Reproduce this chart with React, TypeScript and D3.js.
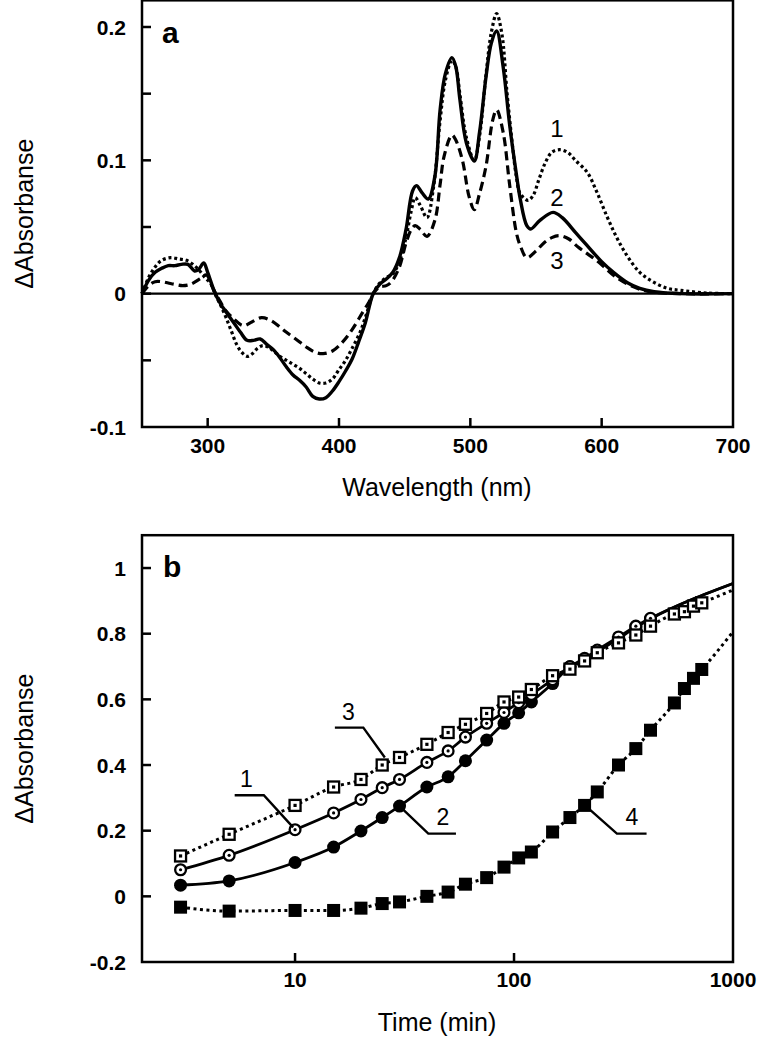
import React from 'react';
import * as d3 from 'd3';

// ---- panel a: difference spectra ----
const wl1 = [250, 255, 260, 265, 272, 278, 284, 290, 294, 298, 302, 306, 310, 314, 318, 322, 326, 330, 334, 338, 342, 346, 350, 355, 360, 365, 370, 375, 380, 385, 390, 395, 400, 405, 410, 416, 421, 426, 431, 436, 441, 446, 451, 455, 458, 462, 467, 472, 477, 481, 486, 489, 492, 497, 503, 507, 512, 516, 520, 524, 528, 532, 535, 538, 544, 548, 552, 557, 562, 568, 574, 580, 589, 596, 604, 611, 619, 629, 639, 650, 660, 680, 700];
const spec1 = [0.000, 0.012, 0.020, 0.025, 0.027, 0.026, 0.025, 0.021, 0.017, 0.012, 0.008, -0.001, -0.009, -0.018, -0.028, -0.038, -0.044, -0.047, -0.045, -0.041, -0.039, -0.040, -0.043, -0.047, -0.050, -0.053, -0.056, -0.060, -0.064, -0.067, -0.067, -0.064, -0.057, -0.050, -0.041, -0.029, -0.015, 0.000, 0.008, 0.012, 0.015, 0.024, 0.042, 0.062, 0.072, 0.066, 0.057, 0.080, 0.130, 0.160, 0.175, 0.170, 0.150, 0.117, 0.100, 0.118, 0.165, 0.196, 0.210, 0.195, 0.150, 0.112, 0.088, 0.075, 0.070, 0.074, 0.085, 0.098, 0.106, 0.108, 0.106, 0.100, 0.091, 0.077, 0.058, 0.043, 0.029, 0.016, 0.009, 0.004, 0.0025, 0.0005, 0.000];

const wl2 = [250, 255, 260, 265, 270, 275, 280, 285, 290, 293, 297, 300, 305, 310, 315, 320, 325, 330, 335, 340, 345, 350, 355, 360, 365, 370, 375, 380, 385, 390, 395, 400, 405, 410, 415, 420, 426, 431, 436, 441, 446, 451, 456, 459, 463, 468, 473, 477, 481, 486, 489, 492, 497, 503, 507, 512, 516, 520, 525, 530, 535, 538, 543, 546, 553, 563, 570, 580, 589, 600, 609, 620, 629, 640, 660, 700];
const spec2 = [0.000, 0.010, 0.016, 0.019, 0.021, 0.021, 0.022, 0.022, 0.017, 0.018, 0.023, 0.016, 0.002, -0.008, -0.015, -0.022, -0.029, -0.035, -0.035, -0.034, -0.038, -0.042, -0.048, -0.055, -0.061, -0.065, -0.070, -0.077, -0.079, -0.078, -0.073, -0.066, -0.058, -0.049, -0.036, -0.022, 0.000, 0.007, 0.011, 0.016, 0.027, 0.048, 0.077, 0.081, 0.076, 0.071, 0.088, 0.138, 0.165, 0.177, 0.170, 0.146, 0.113, 0.0995, 0.121, 0.163, 0.188, 0.197, 0.170, 0.126, 0.090, 0.071, 0.051, 0.0485, 0.055, 0.061, 0.057, 0.046, 0.036, 0.024, 0.016, 0.008, 0.004, 0.0015, 0.000, 0.000];

const wl3 = [250, 255, 260, 265, 270, 275, 281, 287, 294, 299, 304, 309, 314, 320, 327, 334, 341, 348, 355, 360, 367, 375, 382, 388, 395, 403, 410, 418, 423, 426, 431, 436, 440, 446, 451, 455, 458, 462, 467, 473, 477, 480, 486, 489, 494, 499, 503, 507, 512, 517, 520, 525, 530, 535, 538, 543, 550, 556, 562, 568, 575, 582, 589, 596, 603, 610, 620, 630, 640, 660, 700];
const spec3 = [0.000, 0.006, 0.009, 0.009, 0.008, 0.007, 0.006, 0.007, 0.011, 0.014, 0.004, -0.005, -0.013, -0.019, -0.024, -0.021, -0.018, -0.020, -0.025, -0.029, -0.034, -0.040, -0.044, -0.045, -0.043, -0.036, -0.027, -0.014, -0.006, 0.000, 0.005, 0.006, 0.009, 0.020, 0.038, 0.048, 0.051, 0.048, 0.043, 0.055, 0.082, 0.103, 0.119, 0.115, 0.100, 0.073, 0.063, 0.075, 0.096, 0.130, 0.138, 0.121, 0.081, 0.046, 0.036, 0.027, 0.032, 0.038, 0.042, 0.0435, 0.041, 0.035, 0.030, 0.025, 0.019, 0.013, 0.007, 0.003, 0.001, 0.000, 0.000];

const wlTicks = [300, 400, 500, 600];
const wlLabels = ['300', '400', '500', '600', '700'];
const absTicksA = [-0.05, 0, 0.05, 0.1, 0.15, 0.2];
const absLabelsA = ['-0.1', '0', '0.1', '0.2'];

// ---- panel b: kinetics ----
const t1 = [3, 5, 10, 15, 20, 25, 30, 40, 50, 60, 75, 90, 105, 120, 150, 180, 210, 240, 300, 360, 420];
const k1 = [0.081, 0.125, 0.203, 0.254, 0.295, 0.331, 0.356, 0.408, 0.443, 0.485, 0.527, 0.560, 0.590, 0.615, 0.660, 0.700, 0.725, 0.750, 0.790, 0.823, 0.847];
const t2 = [3, 5, 10, 15, 20, 25, 30, 40, 50, 60, 75, 90, 105, 120, 150, 180, 210, 240, 300, 360, 420];
const k2 = [0.034, 0.047, 0.103, 0.150, 0.199, 0.240, 0.275, 0.333, 0.364, 0.413, 0.476, 0.527, 0.559, 0.592, 0.648, 0.699, 0.720, 0.745, 0.785, 0.820, 0.845];
const t3 = [3, 5, 10, 15, 20, 25, 30, 40, 50, 60, 75, 90, 105, 120, 150, 180, 210, 240, 300, 360, 420, 540, 600, 660, 720];
const k3 = [0.123, 0.189, 0.277, 0.333, 0.356, 0.400, 0.423, 0.463, 0.499, 0.524, 0.557, 0.592, 0.607, 0.630, 0.672, 0.692, 0.717, 0.742, 0.772, 0.796, 0.823, 0.860, 0.867, 0.884, 0.894];
const t4 = [3, 5, 10, 15, 20, 25, 30, 40, 50, 60, 75, 90, 105, 120, 150, 180, 210, 240, 300, 360, 420, 540, 600, 660, 720];
const k4 = [-0.033, -0.045, -0.043, -0.043, -0.036, -0.022, -0.017, 0.000, 0.013, 0.037, 0.057, 0.089, 0.117, 0.135, 0.196, 0.240, 0.277, 0.318, 0.400, 0.450, 0.506, 0.589, 0.633, 0.664, 0.691];
// fitted curves run on to the end of the axis
const fitEndTime = 1000;
const fitEnd = [0.953, 0.953, 0.933, 0.806];

const timeTicks = [10, 100];
const timeLabels = [10, 100, 1000];
const absTicksB = [0, 0.2, 0.4, 0.6, 0.8, 1];
const absLabelsB = [-0.2, 0, 0.2, 0.4, 0.6, 0.8, 1];

// curve numbers: [text, x, y] in data units; leaders as polylines
const specLabels: [string, number, number][] = [['1', 566, 0.124], ['2', 566, 0.072], ['3', 566, 0.025]];
const kinLabels: [string, number, number][] = [['3', 17.5, 0.561], ['1', 6.0, 0.359], ['2', 47.3, 0.242], ['4', 345, 0.242]];
const kinLeaders: [number, number][][] = [
  [[15.2, 0.514], [20.5, 0.514], [25.7, 0.423]],
  [[5.3, 0.308], [7.2, 0.308], [9.8, 0.21]],
  [[30, 0.275], [40.6, 0.191], [54.3, 0.191]],
  [[211, 0.277], [295, 0.191], [403, 0.191]],
];

const FONT = '"Liberation Sans", Arial, Helvetica, sans-serif';
const SW = 2.5;

export default function App() {
  const xA = d3.scaleLinear().domain([250, 700]).range([142, 733]);
  const yA = d3.scaleLinear().domain([-0.1, 0.22]).range([427, 0.33]);
  const xB = d3.scaleLog().domain([2, 1000]).range([142, 733]);
  const yB = d3.scaleLinear().domain([-0.2, 1.1]).range([962, 535.2]);

  const specLine = (wl: number[], v: number[]) =>
    d3.line<number>().x((_, i) => xA(wl[i])).y(d => yA(d)).curve(d3.curveCatmullRom.alpha(0.5))(v) || '';
  const kinLine = (t: number[], v: number[], end: number) =>
    d3.line<[number, number]>().x(d => xB(d[0])).y(d => yB(d[1])).curve(d3.curveMonotoneX)(
      [...t.map((tt, i) => [tt, v[i]] as [number, number]), [fitEndTime, end]]
    ) || '';
  const leader = d3.line<[number, number]>().x(d => xB(d[0])).y(d => yB(d[1]));

  const [ax0, ax1] = xA.range();
  const [ayB, ayT] = yA.range();
  const [bx0, bx1] = xB.range();
  const [byB, byT] = yB.range();

  return (
    <svg width={763} height={1050} style={{ position: 'absolute', left: 0, top: 0, background: '#fff' }}
      fontFamily={FONT}>
      {/* ===== panel a ===== */}
      <line x1={ax0} x2={ax1} y1={yA(0)} y2={yA(0)} stroke="#000" strokeWidth={2.2} />
      <path d={specLine(wl1, spec1)} fill="none" stroke="#000" strokeWidth={3.2} strokeDasharray="3,2.8" />
      <path d={specLine(wl3, spec3)} fill="none" stroke="#000" strokeWidth={3.2} strokeDasharray="9,5" />
      <path d={specLine(wl2, spec2)} fill="none" stroke="#000" strokeWidth={3.4} />
      <rect x={ax0} y={ayT} width={ax1 - ax0} height={ayB - ayT} fill="none" stroke="#000" strokeWidth={SW} />
      {wlTicks.map(t => (
        <line key={t} x1={xA(t)} x2={xA(t)} y1={ayB} y2={ayB - 9} stroke="#000" strokeWidth={SW} />
      ))}
      {absTicksA.map(t => (
        <line key={t} x1={ax0} x2={ax0 + 9} y1={yA(t)} y2={yA(t)} stroke="#000" strokeWidth={SW} />
      ))}
      {wlLabels.map(l => (
        <text key={l} x={xA(+l)} y={453} textAnchor="middle" fontWeight="bold" fontSize={21}>{l}</text>
      ))}
      {absLabelsA.map(l => (
        <text key={l} x={126} y={yA(+l)} dy="0.36em" textAnchor="end" fontWeight="bold" fontSize={21}>{l}</text>
      ))}
      <text x={437} y={496} textAnchor="middle" fontSize={25}>Wavelength (nm)</text>
      <text transform={`translate(33,${(ayB + ayT) / 2}) rotate(-90)`} textAnchor="middle" fontSize={25}>ΔAbsorbanse</text>
      <text x={162} y={43} fontWeight="bold" fontSize={30}>a</text>
      {specLabels.map(([s, w, v]) => (
        <text key={s} x={xA(w)} y={yA(v)} dy="0.36em" textAnchor="middle" fontSize={24}>{s}</text>
      ))}

      {/* ===== panel b ===== */}
      <path d={kinLine(t4, k4, fitEnd[3])} fill="none" stroke="#000" strokeWidth={3} strokeDasharray="3,3.5" />
      <path d={kinLine(t3, k3, fitEnd[2])} fill="none" stroke="#000" strokeWidth={3} strokeDasharray="3,3.5" />
      <path d={kinLine(t2, k2, fitEnd[1])} fill="none" stroke="#000" strokeWidth={2.8} />
      <path d={kinLine(t1, k1, fitEnd[0])} fill="none" stroke="#000" strokeWidth={2.8} />
      {t4.map((t, i) => (
        <rect key={t} x={xB(t) - 6.5} y={yB(k4[i]) - 6.5} width={13} height={13} fill="#000" />
      ))}
      {t2.map((t, i) => (
        <circle key={t} cx={xB(t)} cy={yB(k2[i])} r={6.5} fill="#000" />
      ))}
      {t1.map((t, i) => (
        <g key={t}>
          <circle cx={xB(t)} cy={yB(k1[i])} r={5.4} fill="#fff" stroke="#000" strokeWidth={2.3} />
          <circle cx={xB(t)} cy={yB(k1[i])} r={1.6} fill="#000" />
        </g>
      ))}
      {t3.map((t, i) => (
        <g key={t}>
          <rect x={xB(t) - 5.5} y={yB(k3[i]) - 5.5} width={11} height={11} fill="#fff" stroke="#000" strokeWidth={2.3} />
          <rect x={xB(t) - 1.6} y={yB(k3[i]) - 1.6} width={3.2} height={3.2} fill="#000" />
        </g>
      ))}
      {kinLeaders.map((pts, i) => (
        <path key={i} d={leader(pts) || ''} fill="none" stroke="#000" strokeWidth={2.4} />
      ))}
      {kinLabels.map(([s, t, v]) => (
        <text key={s} x={xB(t)} y={yB(v)} dy="0.36em" textAnchor="middle" fontSize={23}>{s}</text>
      ))}
      <rect x={bx0} y={byT} width={bx1 - bx0} height={byB - byT} fill="none" stroke="#000" strokeWidth={SW} />
      {timeTicks.map(t => (
        <line key={t} x1={xB(t)} x2={xB(t)} y1={byB} y2={byB - 9} stroke="#000" strokeWidth={SW} />
      ))}
      {absTicksB.map(t => (
        <line key={t} x1={bx0} x2={bx0 + 9} y1={yB(t)} y2={yB(t)} stroke="#000" strokeWidth={SW} />
      ))}
      {timeLabels.map(l => (
        <text key={l} x={xB(l)} y={987} textAnchor="middle" fontWeight="bold" fontSize={21}>{l}</text>
      ))}
      {absLabelsB.map(l => (
        <text key={l} x={126} y={yB(l)} dy="0.36em" textAnchor="end" fontWeight="bold" fontSize={21}>{l}</text>
      ))}
      <text x={437} y={1031} textAnchor="middle" fontSize={25}>Time (min)</text>
      <text transform={`translate(33,${(byB + byT) / 2}) rotate(-90)`} textAnchor="middle" fontSize={25}>ΔAbsorbanse</text>
      <text x={163} y={577} fontWeight="bold" fontSize={30}>b</text>
    </svg>
  );
}
